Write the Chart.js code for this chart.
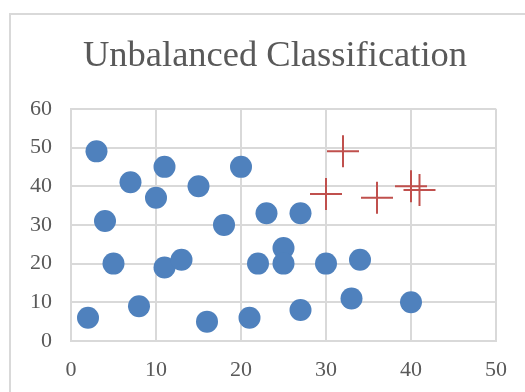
<!DOCTYPE html>
<html>
<head>
<meta charset="utf-8">
<script src="https://cdn.jsdelivr.net/npm/chart.js@4/dist/chart.umd.min.js"></script>
<style>
  html, body { margin: 0; padding: 0; background: #fff; }
  .frame { position: absolute; left: 9px; top: 13px; width: 600px; height: 500px; border: 2px solid #d9d9d9; }
  .chart-wrap { position: absolute; left: 0; top: 0; width: 525px; height: 392px; }
</style>
</head>
<body>
<div class="frame"></div>
<div class="chart-wrap"><canvas id="scatterChart" width="525" height="392"></canvas></div>
<script>
const chartTitle = 'Unbalanced Classification';

// majority class (blue circles)
const blueX = [3, 4, 7, 10, 11, 15, 20, 18, 23, 27, 5, 11, 13, 2, 8, 16, 21, 22, 25, 25, 30, 34, 27, 33, 40];
const blueY = [49, 31, 41, 37, 45, 40, 45, 30, 33, 33, 20, 19, 21, 6, 9, 5, 6, 20, 24, 20, 20, 21, 8, 11, 10];

// minority class (red crosses)
const redX = [32, 30, 36, 40, 41];
const redY = [49, 38, 37, 40, 39];

const xTicks = [0, 10, 20, 30, 40, 50];
const yTicks = [0, 10, 20, 30, 40, 50, 60];

const textColor = '#595959';
const gridColor = '#d9d9d9';
const serif = "'Liberation Serif', 'Times New Roman', serif";

const toPoints = (xs, ys) => xs.map((x, i) => ({ x, y: ys[i] }));

function initScatter() {
  const canvas = document.querySelector('#scatterChart');
  if (!canvas || !window.Chart) return;

  return new Chart(canvas, {
    type: 'scatter',
    data: {
      datasets: [
        {
          label: 'Majority',
          data: toPoints(blueX, blueY),
          pointStyle: 'circle',
          pointRadius: 11,
          pointHoverRadius: 11,
          backgroundColor: '#4f81bd',
          borderColor: '#4f81bd',
          borderWidth: 0
        },
        {
          label: 'Minority',
          data: toPoints(redX, redY),
          pointStyle: 'cross',
          pointRadius: 16,
          pointHoverRadius: 16,
          borderColor: '#c0504d',
          backgroundColor: '#c0504d',
          borderWidth: 2
        }
      ]
    },
    options: {
      responsive: false,
      animation: false,
      // uneven padding shifts the title centre to the right, as in the original
      layout: { padding: { left: 25, right: 0, top: 0, bottom: 0 } },
      plugins: {
        legend: { display: false },
        tooltip: { enabled: false },
        title: {
          display: true,
          text: chartTitle,
          color: textColor,
          font: { family: serif, size: 36.5, weight: 'normal', lineHeight: 1.2 },
          padding: { top: 35, bottom: 30 }
        }
      },
      scales: {
        x: {
          type: 'linear',
          min: xTicks[0],
          max: xTicks[xTicks.length - 1],
          afterBuildTicks: (s) => { s.ticks = xTicks.map((v) => ({ value: v })); },
          afterFit: (s) => { s.height = 51; },
          grid: { color: gridColor, lineWidth: 2, drawTicks: false },
          border: { color: gridColor, width: 2 },
          ticks: { color: textColor, padding: 16, font: { family: serif, size: 22 } }
        },
        y: {
          type: 'linear',
          min: yTicks[0],
          max: yTicks[yTicks.length - 1],
          afterBuildTicks: (s) => { s.ticks = yTicks.map((v) => ({ value: v })); },
          afterFit: (s) => { s.width = 46; },
          grid: { color: gridColor, lineWidth: 2, drawTicks: false },
          border: { color: gridColor, width: 2 },
          ticks: { color: textColor, padding: 19, font: { family: serif, size: 22 } }
        },
        // empty right-hand gutter
        spacer: {
          type: 'linear',
          position: 'right',
          afterFit: (s) => { s.width = 29; },
          grid: { display: false, drawTicks: false },
          border: { display: false },
          ticks: { display: false }
        }
      }
    }
  });
}

initScatter();
</script>
</body>
</html>
